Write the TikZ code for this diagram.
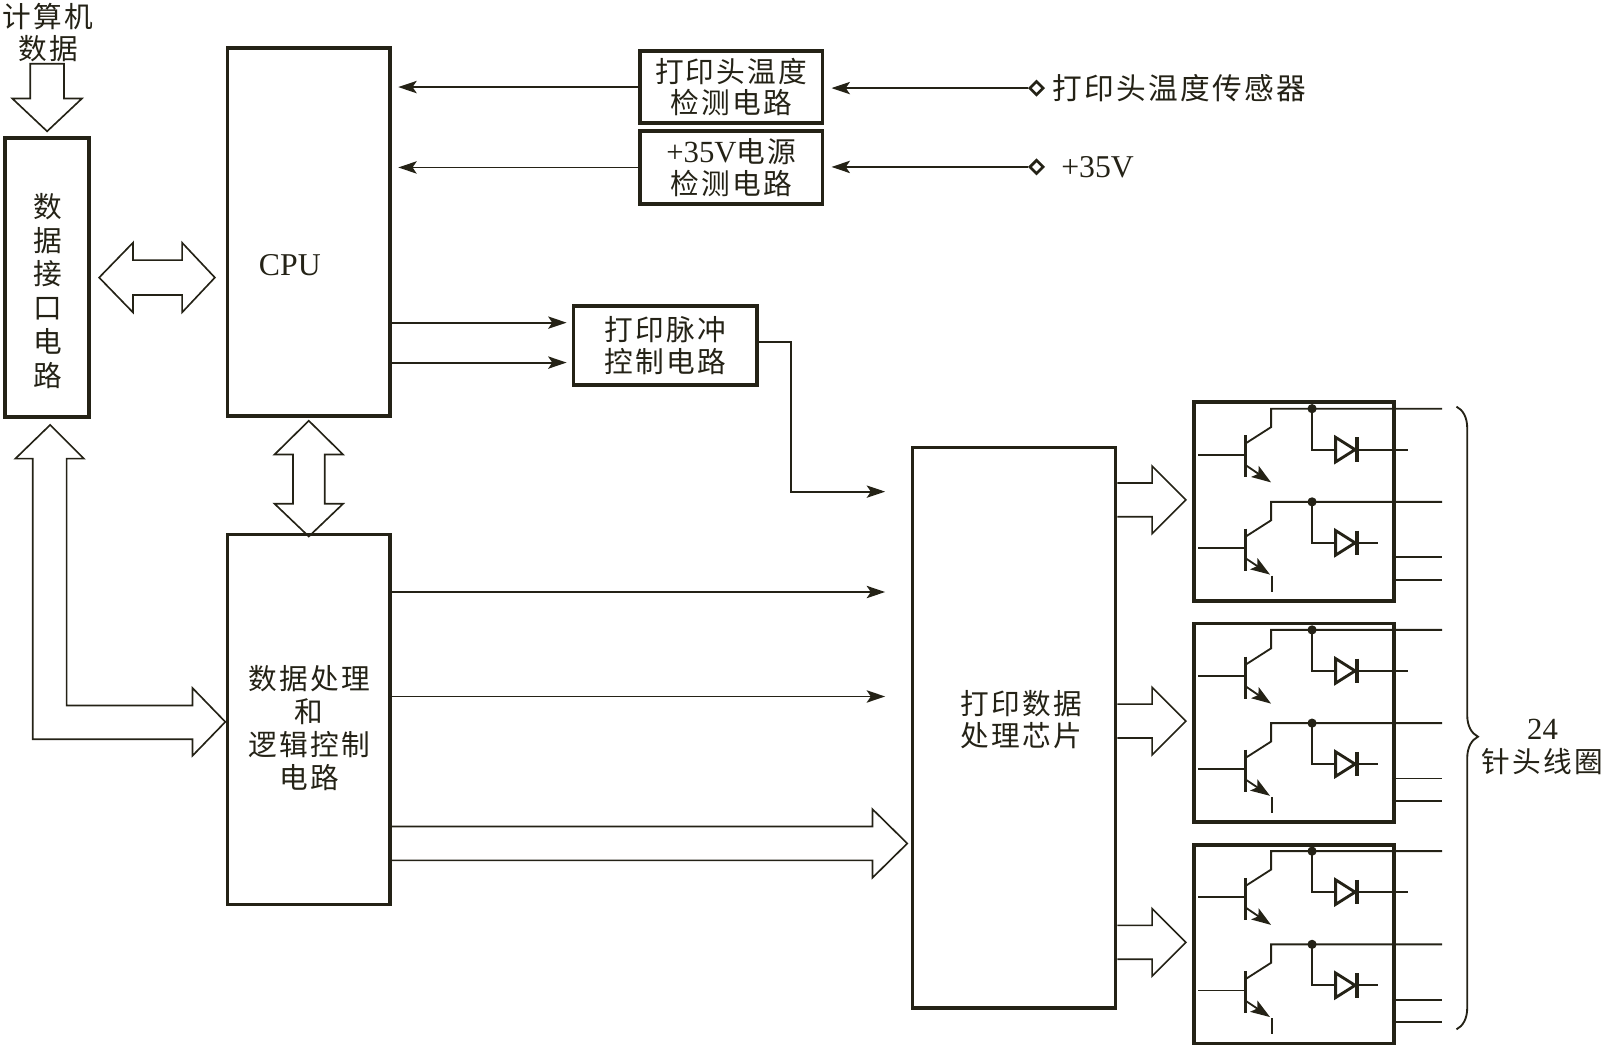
\documentclass[tikz,border=0pt]{standalone}
\usepackage{fontspec}
\usepackage{tikz}
\usetikzlibrary{arrows.meta,shapes.geometric,decorations.pathreplacing}
\setmainfont{Liberation Serif}
\newfontfamily\cjk[LetterSpace=8]{Noto Sans CJK SC}
\definecolor{ink}{RGB}{36,34,22}
\newcommand{\boxWidth}[0]{3.6pt}
\newcommand{\wireWidth}[0]{1.8pt}
\newcommand{\lat}[1]{{\fontsize{30}{31}\selectfont\rmfamily #1}}

\tikzset{
  driver/.pic={
    \node[block, minimum width=195pt, minimum height=194pt, anchor=north west] (-box) at (0,0) {};
    \draw[wire] (6,53) -- (52,53);
    \draw[bar] (52,34) -- (52,75);
    \draw[wire] (52,42) -- (77,26) -- (77,8) -- (244,8);
    \draw[wire, -{Stealth[length=19pt, width=13pt, inset=4pt]}] (52,63) -- (77,80);
    \draw[wire] (117,8) -- (117,48) -- (211,48);
    \fill (117,8) circle (4.5pt);
    \draw[diode] (140,36) -- (159,48) -- (140,60) -- cycle;
    \draw[bar] (161,36) -- (161,60);
    \begin{scope}[shift={(0,91)}]
      \draw[wire] (6,53) -- (52,53);
      \draw[bar] (52,34) -- (52,75);
      \draw[wire] (52,42) -- (77,26) -- (77,8) -- (244,8);
      \draw[wire, -{Stealth[length=19pt, width=13pt, inset=4pt]}] (52,63) -- (76,79);
      \draw[wire] (78,80) -- (78,96);
      \draw[wire] (117,8) -- (117,48) -- (181,48);
      \fill (117,8) circle (4.5pt);
      \draw[diode] (140,36) -- (159,48) -- (140,60) -- cycle;
      \draw[bar] (161,36) -- (161,60);
    \end{scope}
    \draw[wire] (195,153) -- (244,153);
    \draw[wire] (195,175) -- (244,175);
  }
}

\begin{document}
\begin{tikzpicture}[x=1pt, y=-1pt, color=ink]
  \tikzset{
    block/.style={draw=ink, line width=\boxWidth, inner sep=0pt, align=center,
      font=\fontsize{28}{31}\selectfont\cjk},
    txt/.style={inner sep=0pt, align=center, font=\fontsize{28}{31}\selectfont\cjk},
    wire/.style={draw=ink, line width=\wireWidth},
    feed/.style={wire, -{Stealth[length=18pt, width=12pt, inset=4pt]}},
    fat/.style={draw=ink, line width=1.6pt, line join=miter},
    bar/.style={draw=ink, line width=3.6pt},
    diode/.style={draw=ink, fill=white, line width=2.8pt, line join=miter},
    port/.style={draw=ink, fill=white, line width=2.6pt, diamond, minimum size=14pt, inner sep=0pt}
  }
  \useasboundingbox (0,0) rectangle (1568,1019.3);

  \node[txt] (pc) at (47,32) {计算机\\数据};
  \node[block, minimum width=82pt, minimum height=272pt] (iface) at (46,271) {};
  \node[txt, font=\fontsize{28}{33}\selectfont\cjk] (iface-t) at (47,284) {数\\据\\接\\口\\电\\路};
  \node[block, minimum width=159pt, minimum height=359pt] (cpu) at (301.5,226.5) {};
  \node[txt, font=\fontsize{31}{34}\selectfont] (cpu-t) at (283,259) {CPU};
  \node[block, minimum width=178pt, minimum height=70pt] (temp) at (714,85) {打印头温度\\检测电路};
  \node[block, minimum width=178pt, minimum height=71pt] (power) at (714,163.5) {\lat{+35V}电源\\检测电路};
  \node[block, minimum width=179pt, minimum height=77pt] (pulse) at (649.5,337.5) {打印脉冲\\控制电路};
  \node[block, minimum width=159pt, minimum height=361pt] (logic) at (301.5,702.5) {};
  \node[txt, font=\fontsize{28}{32.3}\selectfont\cjk] (logic-t) at (302,710.5) {数据处理\\和\\逻辑控制\\电路};
  \node[block, minimum width=198pt, minimum height=547pt] (chip) at (990,710.5) {};
  \node[txt] (chip-t) at (997,702.5) {打印数据\\处理芯片};

  \node[port] (sens) at (1012,86) {};
  \node[txt, anchor=west, font=\fontsize{29}{31}\selectfont\cjk] (sens-t) at (1027,86) {打印头温度传感器};
  \node[port] (vin) at (1012,163) {};
  \node[txt, anchor=west, font=\fontsize{31}{31}\selectfont] (vin-t) at (1036,163) {+35V};

  \draw[feed, shorten >=7pt] (sens.west) -- (temp.east |- sens.west);
  \draw[feed, shorten >=7pt] (vin.west) -- (power.east |- vin.west);
  \draw[feed, shorten >=6pt] (temp.west) -- (cpu.east |- temp.west);
  \draw[feed, shorten >=6pt] (power.west) -- (cpu.east |- power.west);
  \draw[feed, shorten >=5pt] (cpu.east |- 0,315) -- (pulse.west |- 0,315);
  \draw[feed, shorten >=5pt] (cpu.east |- 0,354) -- (pulse.west |- 0,354);
  \draw[feed, shorten >=25pt] (pulse.east |- 0,334) -- (772,334) -- (772,480) -- (chip.west |- 0,480);
  \draw[feed, shorten >=25pt] (logic.east |- 0,578) -- (chip.west |- 0,578);
  \draw[feed, shorten >=25pt] (logic.east |- 0,680) -- (chip.west |- 0,680);

  \draw[fat] ([yshift=5pt]iface.north) -- ++(34,-32) -- ++(-17.5,0) -- ++(0,-34) -- ++(-33,0)
    -- ++(0,34) -- ++(-17.5,0) -- cycle;
  \draw[fat] ([xshift=8pt]iface.east) -- ++(33,-34) -- ++(0,17) -- ++(48,0) -- ++(0,-17)
    -- ++(32,34) -- ++(-32,34) -- ++(0,-17) -- ++(-48,0) -- ++(0,17) -- cycle;
  \draw[fat] ([yshift=-3pt]cpu.south) -- ++(33.5,33) -- ++(-18,0) -- ++(0,48) -- ++(18,0)
    -- ++(-33.5,32) -- ++(-33.5,-32) -- ++(18,0) -- ++(0,-48) -- ++(-18,0) -- cycle;
  \draw[fat] ([xshift=3pt, yshift=-6pt]iface.south) -- ++(33,33) -- ++(-17,0) -- ++(0,241)
    -- ++(123,0) -- ++(0,-17) -- ++(32,33) -- ++(-32,33) -- ++(0,-16) -- ++(-156,0)
    -- ++(0,-274) -- ++(-17,0) -- cycle;
  \draw[fat] (logic.east |- 0,807) -- ++(469,0) -- ++(0,-17) -- ++(34,33.5) -- ++(-34,33.5)
    -- ++(0,-17) -- (logic.east |- 0,840);
  \draw[fat] (chip.east |- 0,471.5) -- ++(34,0) -- ++(0,-16.5) -- ++(33,33) -- ++(-33,33)
    -- ++(0,-16.5) -- (chip.east |- 0,504.5);
  \draw[fat] (chip.east |- 0,687.5) -- ++(34,0) -- ++(0,-16.5) -- ++(33,33) -- ++(-33,33)
    -- ++(0,-16.5) -- (chip.east |- 0,720.5);
  \draw[fat] (chip.east |- 0,903.5) -- ++(34,0) -- ++(0,-16.5) -- ++(33,33) -- ++(-33,33)
    -- ++(0,-16.5) -- (chip.east |- 0,936.5);

  \pic (m1) at (1164,391) {driver};
  \pic (m2) at (1164,607) {driver};
  \pic (m3) at (1164,823) {driver};

  \draw[wire, decorate, decoration={brace, amplitude=21pt, aspect=0.53}] (1422,397) -- (1422,1005);
  \node[txt, font=\fontsize{28}{32}\selectfont\cjk] (coils) at (1506,729) {\lat{24}\\针头线圈};
\end{tikzpicture}
\end{document}
